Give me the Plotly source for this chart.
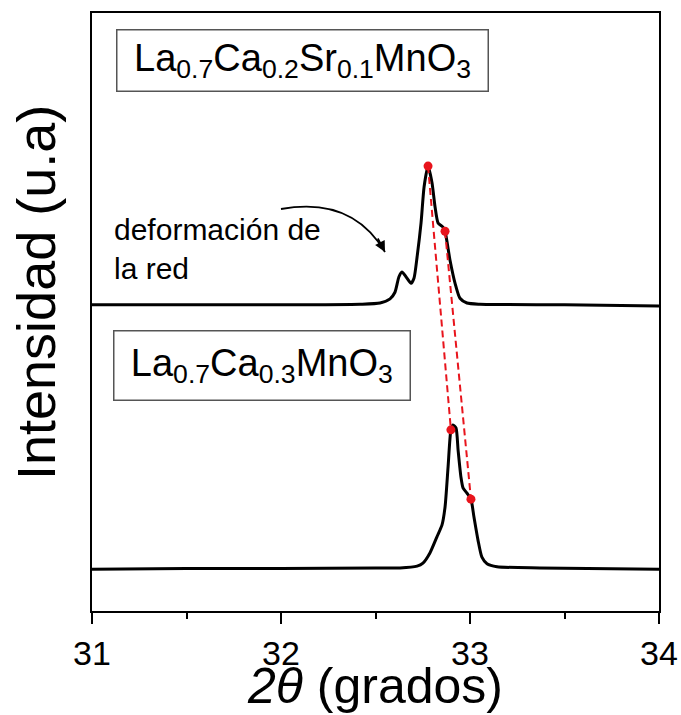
import plotly.graph_objects as go

# ---- data ----
two_theta_upper = [31.0, 31.5, 32.0, 32.418, 32.524, 32.577, 32.603, 32.624, 32.640, 32.661,
                   32.688, 32.704, 32.720, 32.741, 32.757, 32.778, 32.799, 32.815, 32.831,
                   32.857, 32.868, 32.894, 32.921, 32.947, 32.984, 33.053, 33.5, 34.0]
intensity_upper = [51.2, 51.2, 51.2, 51.3, 51.5, 52.2, 53.3, 55.9, 56.7, 55.9,
                   54.8, 55.7, 59.2, 64.9, 70.9, 74.4, 71.6, 67.6, 64.9,
                   64.2, 63.5, 58.7, 54.8, 52.3, 51.5, 51.3, 51.2, 51.0]

two_theta_lower = [31.0, 31.5, 32.0, 32.5, 32.630, 32.720, 32.751, 32.788, 32.825, 32.852,
                   32.868, 32.884, 32.899, 32.910, 32.926, 32.937, 32.952, 32.963, 32.984,
                   33.005, 33.021, 33.042, 33.063, 33.090, 33.143, 33.370, 34.0]
intensity_lower = [7.0, 7.1, 7.1, 7.2, 7.2, 7.5, 8.0, 9.7, 12.4, 14.4,
                   17.4, 24.1, 30.3, 31.1, 30.6, 26.9, 22.4, 20.6, 19.7,
                   18.7, 15.7, 11.9, 9.0, 7.9, 7.4, 7.2, 7.0]

# peak markers: [main peak, shoulder]
marks_upper_x = [32.778, 32.868]
marks_upper_y = [74.4, 63.5]
marks_lower_x = [32.899, 33.005]
marks_lower_y = [30.3, 18.7]

x_ticks = [31, 32, 33, 34]
x_tick_labels = ["31", "32", "33", "34"]

label_upper = "\u00a0La<sub>0.7</sub>Ca<sub>0.2</sub>Sr<sub>0.1</sub>MnO<sub>3</sub>\u00a0"
label_lower = "\u2006La<sub>0.7</sub>Ca<sub>0.3</sub>MnO<sub>3</sub>\u2006"
note_text = "deformación de<br>la red"

FONT = "Liberation Sans, Arial, sans-serif"
RED = "#e8141c"

# plot area in pixels
W, H = 681, 715
L, R, T, B = 92, 22, 13, 104
PW, PH = W - L - R, H - T - B


def px(xp):
    return (xp - L) / PW


def py(yp):
    return (H - B - yp) / PH


def dx(xp):
    return 31 + 3 * (xp - L) / PW


def dy(yp):
    return 100 * (H - B - yp) / PH


fig = go.Figure()

for xs, ys in [(two_theta_upper, intensity_upper), (two_theta_lower, intensity_lower)]:
    fig.add_trace(go.Scatter(x=xs, y=ys, mode="lines",
                             line=dict(color="black", width=3, shape="spline", smoothing=0.6),
                             hoverinfo="skip", showlegend=False))

for i in range(2):
    fig.add_trace(go.Scatter(x=[marks_upper_x[i], marks_lower_x[i]],
                             y=[marks_upper_y[i], marks_lower_y[i]],
                             mode="lines", line=dict(color=RED, width=2, dash="7px,4px"),
                             showlegend=False, hoverinfo="skip"))

fig.add_trace(go.Scatter(x=marks_upper_x + marks_lower_x, y=marks_upper_y + marks_lower_y,
                         mode="markers", marker=dict(color=RED, size=9, symbol="circle"),
                         showlegend=False, hoverinfo="skip"))

# curved arrow
arrow_start = (281, 209)
arrow_ctrl = (352, 196)
arrow_end = (385, 252)
fig.add_shape(type="path", xref="x", yref="y",
              path=f"M {dx(arrow_start[0])},{dy(arrow_start[1])} Q {dx(arrow_ctrl[0])},{dy(arrow_ctrl[1])} {dx(arrow_end[0])},{dy(arrow_end[1])}",
              line=dict(color="black", width=1.8))
fig.add_annotation(x=dx(arrow_end[0]), y=dy(arrow_end[1]), ax=-8, ay=-15, xref="x", yref="y",
                   axref="pixel", ayref="pixel", text="", showarrow=True,
                   arrowhead=2, arrowsize=1.2, arrowwidth=1.8, arrowcolor="black")

fig.add_annotation(text=label_upper, xref="paper", yref="paper", x=px(116), y=py(61),
                   xanchor="left", yanchor="middle", showarrow=False,
                   font=dict(family=FONT, size=38, color="black"),
                   bordercolor="#555555", borderwidth=1.5, borderpad=6, bgcolor="white")
fig.add_annotation(text=label_lower, xref="paper", yref="paper", x=px(113), y=py(366),
                   xanchor="left", yanchor="middle", showarrow=False,
                   font=dict(family=FONT, size=38, color="black"),
                   bordercolor="#555555", borderwidth=1.5, borderpad=10, bgcolor="white")
fig.add_annotation(text=note_text, xref="paper", yref="paper", x=px(112), y=py(249),
                   xanchor="left", yanchor="middle", align="left", showarrow=False,
                   font=dict(family=FONT, size=30, color="black"))

fig.add_annotation(text="Intensidad (u.a)", xref="paper", yref="paper", x=px(36), y=py(293),
                   xanchor="center", yanchor="middle", textangle=-90, showarrow=False,
                   font=dict(family=FONT, size=54, color="black"))
fig.add_annotation(text="<i>2θ</i> (grados)", xref="paper", yref="paper", x=px(375), y=py(686),
                   xanchor="center", yanchor="middle", showarrow=False,
                   font=dict(family=FONT, size=50, color="black"))

fig.update_xaxes(range=[31, 34], tickvals=x_ticks, ticktext=x_tick_labels,
                 ticks="outside", ticklen=11, tickwidth=2, tickcolor="black",
                 minor=dict(dtick=0.5, ticks="outside", ticklen=6, tickwidth=2, tickcolor="black"),
                 showline=True, linecolor="black", linewidth=2, mirror=True,
                 showgrid=False, zeroline=False, automargin=False,
                 tickfont=dict(family=FONT, size=34, color="black"))
fig.update_yaxes(range=[0, 100], showticklabels=False, ticks="",
                 showline=True, linecolor="black", linewidth=2, mirror=True,
                 showgrid=False, zeroline=False, automargin=False)

fig.update_layout(width=W, height=H, margin=dict(l=L, r=R, t=T, b=B, autoexpand=False),
                  paper_bgcolor="white", plot_bgcolor="white", showlegend=False)

fig.write_html("out.html", config={"displayModeBar": False},
               post_script="document.body.style.margin='0';document.body.style.padding='0';")
